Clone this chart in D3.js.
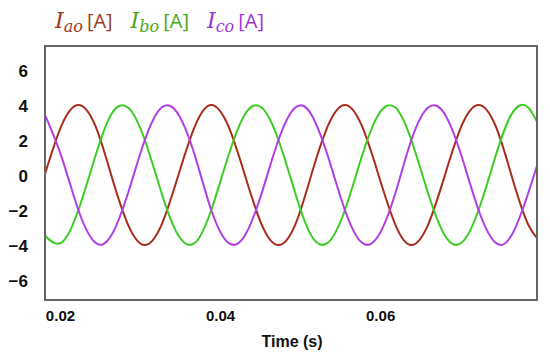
<!DOCTYPE html>
<html>
<head>
<meta charset="utf-8">
<script src="https://cdn.jsdelivr.net/npm/d3@7"></script>
<style>
  body { margin: 0; background: #fff; }
  .tick text { font-family: "Liberation Sans", Arial, sans-serif; font-weight: bold; fill: #111; }
</style>
</head>
<body>
<svg id="chart" width="550" height="358"></svg>
<script>

// sample times (s), read every eighth of a cycle
let times = [0.0181, 0.0202, 0.0223, 0.0244, 0.0264, 0.0285, 0.0306, 0.0327,
             0.0348, 0.0369, 0.0389, 0.0410, 0.0431, 0.0452, 0.0473, 0.0494,
             0.0514, 0.0535, 0.0556, 0.0577, 0.0598, 0.0619, 0.0639, 0.0660,
             0.0681, 0.0702, 0.0723, 0.0744, 0.0764, 0.0785, 0.0806]

let iao = [0, 2.83, 4.0, 2.83, 0, -2.83, -4.0, -2.83,
           0, 2.83, 4.0, 2.83, 0, -2.83, -4.0, -2.83,
           0, 2.83, 4.0, 2.83, 0, -2.83, -4.0, -2.83,
           0, 2.83, 4.0, 2.83, 0, -2.83, -4.0]

let ibo = [-3.46, -3.86, -2.0, 1.04, 3.46, 3.86, 2.0, -1.04,
           -3.46, -3.86, -2.0, 1.04, 3.46, 3.86, 2.0, -1.04,
           -3.46, -3.86, -2.0, 1.04, 3.46, 3.86, 2.0, -1.04,
           -3.46, -3.86, -2.0, 1.04, 3.46, 3.86, 2.0]

let ico = [3.46, 1.04, -2.0, -3.86, -3.46, -1.04, 2.0, 3.86,
           3.46, 1.04, -2.0, -3.86, -3.46, -1.04, 2.0, 3.86,
           3.46, 1.04, -2.0, -3.86, -3.46, -1.04, 2.0, 3.86,
           3.46, 1.04, -2.0, -3.86, -3.46, -1.04, 2.0]

let xTicks = [0.02, 0.04, 0.06]
let yTicks = [-6, -4, -2, 0, 2, 4, 6]

let series = [
  {sub: "ao", values: iao, color: "#a82c1c", label: "#9a3a1c"},
  {sub: "bo", values: ibo, color: "#3ccc22", label: "#4aa820"},
  {sub: "co", values: ico, color: "#b03ee6", label: "#9b34d8"}
]

let svg = d3.select("#chart")

let plotLeft = 45, plotRight = 537, plotTop = 46, plotBottom = 300

let x = d3.scaleLinear().domain([0.01813, 0.0796]).range([plotLeft, plotRight])
let y = d3.scaleLinear().domain([-7.14, 7.37]).range([plotBottom, plotTop])

svg.append("clipPath")
   .attr("id", "plotArea")
   .append("rect")
   .attr("x", plotLeft)
   .attr("y", plotTop)
   .attr("width", plotRight - plotLeft)
   .attr("height", plotBottom - plotTop)

let line = d3.line()
             .x(function(d) { return x(d[0]) })
             .y(function(d) { return y(d[1]) })
             .curve(d3.curveNatural)

let plot = svg.append("g").attr("clip-path", "url(#plotArea)")

series.forEach(function(s) {

  plot.append("path")
      .datum(times.map(function(t, i) { return [t, s.values[i]] }))
      .attr("d", line)
      .attr("fill", "none")
      .attr("stroke", s.color)
      .attr("stroke-width", 2)

})

svg.append("rect")
   .attr("x", plotLeft)
   .attr("y", plotTop)
   .attr("width", plotRight - plotLeft)
   .attr("height", plotBottom - plotTop)
   .attr("fill", "none")
   .attr("stroke", "#666")
   .attr("stroke-width", 2)

let yAxis = svg.append("g")
               .attr("transform", "translate(" + 28 + ",0)")
               .call(d3.axisLeft(y).tickValues(yTicks).tickSize(0).tickPadding(0))

yAxis.select(".domain").remove()
yAxis.selectAll("text").style("font-size", "17px").attr("dy", "0.36em")

let xAxis = svg.append("g")
               .attr("transform", "translate(0," + 310 + ")")
               .call(d3.axisBottom(x).tickValues(xTicks).tickSize(0).tickPadding(0).tickFormat(d3.format(".2f")))

xAxis.select(".domain").remove()
xAxis.selectAll("text").style("font-size", "15px").attr("dy", "0.71em")

svg.append("text")
   .attr("x", 292)
   .attr("y", 347)
   .attr("text-anchor", "middle")
   .style("font-family", "'Liberation Sans Narrow', 'Liberation Sans', Arial, sans-serif")
   .style("font-weight", "bold")
   .style("font-size", "16px")
   .style("fill", "#111")
   .text("Time (s)")

// legend along the top
let legend = svg.append("text")
                .attr("x", 55)
                .attr("y", 28)

series.forEach(function(s, i) {

  legend.append("tspan")
        .attr("dx", i == 0 ? 0 : 18)
        .style("font-family", "'DejaVu Serif', serif")
        .style("font-style", "italic")
        .style("font-size", "22px")
        .style("fill", s.label)
        .text("I")

  legend.append("tspan")
        .attr("dy", 4)
        .style("font-family", "'DejaVu Serif', serif")
        .style("font-style", "italic")
        .style("font-size", "16px")
        .style("fill", s.label)
        .text(s.sub)

  legend.append("tspan")
        .attr("dy", -4)
        .attr("dx", 4)
        .style("font-family", "'Open Sans', sans-serif")
        .style("font-size", "20px")
        .style("fill", s.label)
        .text("[A]")

})

</script>
</body>
</html>
